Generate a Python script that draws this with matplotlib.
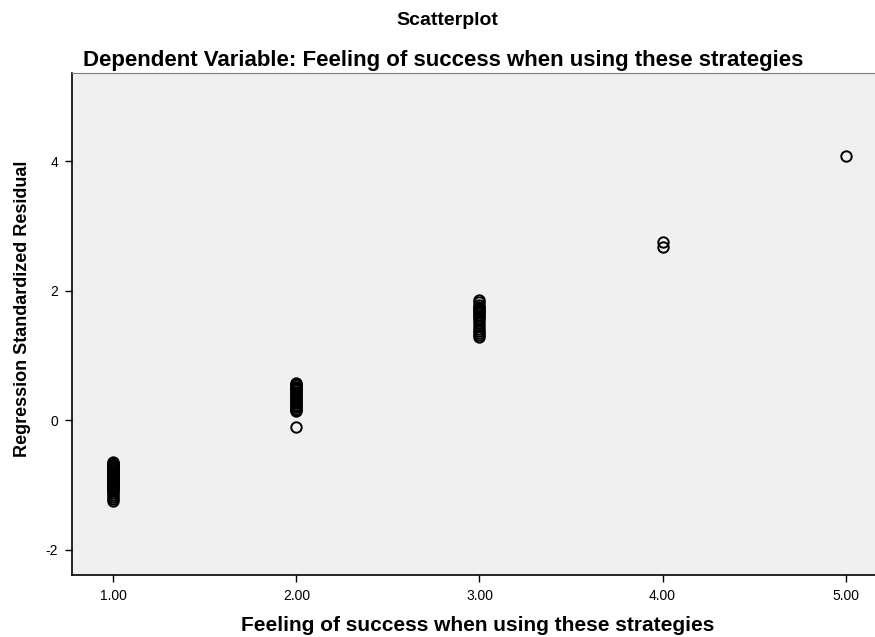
import numpy as np
import matplotlib.pyplot as plt

plt.rcParams['font.family'] = ['Liberation Sans', 'DejaVu Sans']
plt.rcParams['axes.unicode_minus'] = False

# Data
y1 = [-0.65, -0.66, -0.67, -0.68, -0.69, -0.70, -0.71, -0.72, -0.74, -0.75,
      -0.76, -0.78, -0.79, -0.80, -0.82, -0.83, -0.84, -0.86, -0.87, -0.88,
      -0.90, -0.91, -0.92, -0.94, -0.95, -0.96, -0.98, -0.99, -1.00, -1.02,
      -1.03, -1.05, -1.06, -1.08, -1.10, -1.13, -1.16, -1.19, -1.22, -1.25]
x1 = [1.0] * len(y1)
y2 = [-0.10, 0.14, 0.16, 0.18, 0.20, 0.22, 0.24, 0.26, 0.28, 0.30,
      0.32, 0.34, 0.36, 0.38, 0.40, 0.42, 0.44, 0.46, 0.48, 0.50,
      0.52, 0.54, 0.56, 0.58]
x2 = [2.0] * len(y2)
y3 = [1.28, 1.31, 1.34, 1.37, 1.41, 1.45, 1.50, 1.55, 1.58, 1.61,
      1.63, 1.65, 1.67, 1.69, 1.71, 1.73, 1.75, 1.78, 1.82, 1.85]
x3 = [3.0] * len(y3)
x4 = [4.0, 4.0]
y4 = [2.68, 2.75]
x5 = [5.0]
y5 = [4.08]

xs = x1 + x2 + x3 + x4 + x5
ys = y1 + y2 + y3 + y4 + y5

xticks = [1, 2, 3, 4, 5]
xticklabels = ["1.00", "2.00", "3.00", "4.00", "5.00"]
yticks = [-2, 0, 2, 4]

fig = plt.figure(figsize=(8.75, 6.37), dpi=100)
ax = fig.add_axes([0.0823, 0.0973, 0.9177, 0.7881])
ax.set_facecolor('#f0f0f0')

ax.plot(xs, ys, 'o', mfc='none', mec='black', ms=7.5, mew=1.4)

ax.set_xlim(0.775, 5.16)
ax.set_ylim(-2.39, 5.36)
ax.set_xticks(xticks)
ax.set_xticklabels(xticklabels)
ax.set_yticks(yticks)
ax.tick_params(direction='out', length=5, width=1, labelsize=10, pad=5)

ax.spines['right'].set_visible(False)
ax.spines['top'].set_color('#808080')
ax.spines['left'].set_linewidth(1.2)
ax.spines['bottom'].set_linewidth(1.2)

ax.set_xlabel("Feeling of success when using these strategies",
              fontsize=15, fontweight='bold')
ax.xaxis.set_label_coords(0.505, -0.082)
ax.set_ylabel("Regression Standardized Residual",
              fontsize=13, fontweight='bold')
ax.yaxis.set_label_coords(-0.051, 0.53)

fig.text(0.511, 0.968, "Scatterplot", ha='center', va='center',
         fontsize=14, fontweight='bold')
fig.text(0.506, 0.905, "Dependent Variable: Feeling of success when using these strategies",
         ha='center', va='center', fontsize=16, fontweight='bold')

fig.savefig('out.png', dpi=100)
